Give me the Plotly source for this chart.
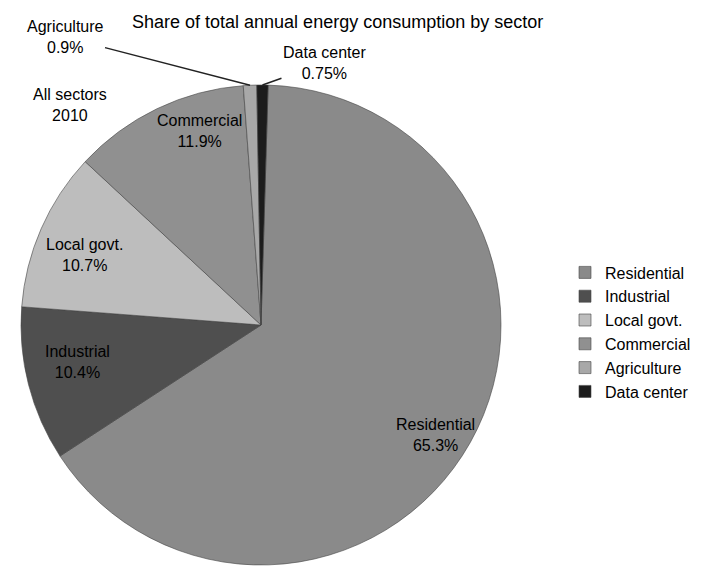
import math
import plotly.graph_objects as go

# ---- data (percentages) ----
categories = ["Residential", "Industrial", "Local govt.", "Commercial", "Agriculture", "Data center"]
shares = [65.3, 10.4, 10.7, 11.9, 0.9, 0.75]
title_text = "Share of total annual energy consumption by sector"
note_text = "All sectors<br>2010"

# ---- style ----
colors = ["#8a8a8a", "#4f4f4f", "#bdbdbd", "#909090", "#a8a8a8", "#1c1c1c"]
W, H = 702, 567
CX, CY, R = 261, 325, 240          # pie centre / radius in pixels
START = 1.7                         # degrees clockwise from 12 o'clock
FONT = "Liberation Sans, Arial, sans-serif"

dom_x = [(CX - R) / W, (CX + R) / W]
dom_y = [1 - (CY + R) / H, 1 - (CY - R) / H]

fig = go.Figure()
fig.add_trace(go.Pie(
    labels=categories, values=shares, sort=False, direction="clockwise",
    rotation=START, textinfo="none", hoverinfo="label+percent",
    marker=dict(colors=colors, line=dict(color="#444444", width=0.6)),
    domain=dict(x=dom_x, y=dom_y),
))

# slice angles derived from the data
total = sum(shares)
mids = []
acc = START
for v in shares:
    span = 360 * v / total
    mids.append(acc + span / 2)
    acc += span

def pt(angle, frac):
    a = math.radians(angle)
    x = CX + R * frac * math.sin(a)
    y = CY - R * frac * math.cos(a)
    return x / W, 1 - y / H

label_text = [f"{c}<br>{s:g}%" for c, s in zip(categories, shares)]
# inside labels: (radius fraction, angle nudge)
inside = {0: (0.86, 3), 1: (0.78, 3), 2: (0.79, -2), 3: (0.85, 8)}
for i, (f, da) in inside.items():
    x, y = pt(mids[i] + da, f)
    fig.add_annotation(x=x, y=y, xref="paper", yref="paper", text=label_text[i],
                       xanchor="center", yanchor="middle", showarrow=False,
                       font=dict(family=FONT, size=16, color="black"))

# outside labels with leader lines for the thin slices: (dx, dy) text offsets in px
outside = {4: (-185, -48), 5: (62, -22)}
for i, (ax, ay) in outside.items():
    x, y = pt(mids[i], 1.0)
    fig.add_annotation(x=x, y=y, xref="paper", yref="paper", text=label_text[i],
                       xanchor="center", yanchor="middle",
                       showarrow=True, arrowhead=0, arrowwidth=1.5, arrowcolor="#222222",
                       ax=ax, ay=ay, font=dict(family=FONT, size=16, color="black"))

fig.add_annotation(x=130 / W, y=1 - 22 / H, xref="paper", yref="paper",
                   xanchor="left", yanchor="middle",
                   text=title_text, showarrow=False,
                   font=dict(family=FONT, size=18, color="black"))
fig.add_annotation(x=70 / W, y=1 - 105 / H, xref="paper", yref="paper",
                   xanchor="center", yanchor="middle",
                   text=note_text, showarrow=False,
                   font=dict(family=FONT, size=16, color="black"))

fig.update_layout(
    width=W, height=H, margin=dict(l=0, r=0, t=0, b=0),
    paper_bgcolor="white", plot_bgcolor="white",
    font=dict(family=FONT, color="black"),
    showlegend=True,
    legend=dict(x=565 / W, xanchor="left", y=1 - 332 / H, yanchor="middle",
                font=dict(family=FONT, size=16, color="black"), bgcolor="rgba(0,0,0,0)"),
)
fig.write_html("out.html")
